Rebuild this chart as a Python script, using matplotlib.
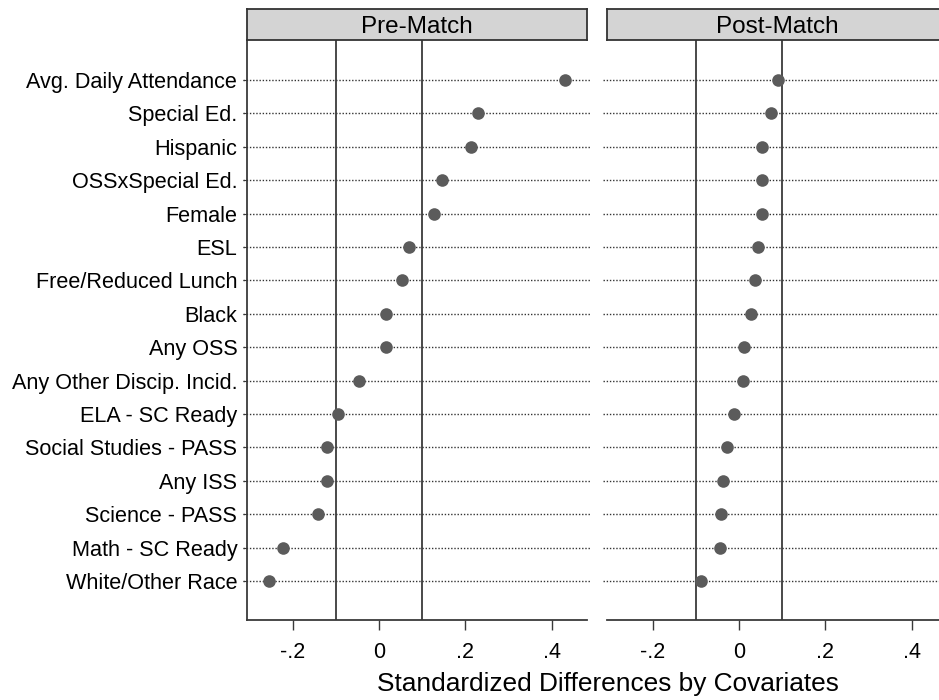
import numpy as np
import matplotlib
matplotlib.use('Agg')
import matplotlib.pyplot as plt

plt.rcParams['font.family'] = ['Liberation Sans', 'DejaVu Sans']

# covariates, top to bottom
covariates = ['Avg. Daily Attendance', 'Special Ed.', 'Hispanic', 'OSSxSpecial Ed.',
              'Female', 'ESL', 'Free/Reduced Lunch', 'Black', 'Any OSS',
              'Any Other Discip. Incid.', 'ELA - SC Ready', 'Social Studies - PASS',
              'Any ISS', 'Science - PASS', 'Math - SC Ready', 'White/Other Race']

pre_match = [0.431, 0.229, 0.212, 0.146, 0.128, 0.070, 0.054, 0.017, 0.016,
             -0.046, -0.096, -0.121, -0.121, -0.141, -0.222, -0.256]
post_match = [0.091, 0.073, 0.054, 0.054, 0.053, 0.043, 0.037, 0.027, 0.012,
              0.009, -0.012, -0.029, -0.036, -0.041, -0.043, -0.087]

panels = ['Pre-Match', 'Post-Match']
xticks = [-0.2, 0, 0.2, 0.4]
xticklabels = ['-.2', '0', '.2', '.4']
thresholds = [-0.1, 0.1]

W, H = 939, 700
fig = plt.figure(figsize=(W / 100, H / 100), dpi=100)

ypos = np.arange(len(covariates))
dot_col = '#5b5b5b'
line_col = '#3a3a3a'

lefts = [247, 607]
pw = 340
top, bottom = 40, 620

for i, (name, vals) in enumerate(zip(panels, [pre_match, post_match])):
    ax = fig.add_axes([lefts[i] / W, 1 - bottom / H, pw / W, (bottom - top) / H])
    for y in ypos:
        ax.plot([-0.315, 0.49], [y, y], linestyle=(0, (1, 1.3)), color='#333333',
                linewidth=1.0, zorder=1, clip_on=False)
    for t in thresholds:
        ax.axvline(t, color=line_col, linewidth=1.3, zorder=2)
    ax.scatter(vals, ypos, s=82, color=dot_col, zorder=3, linewidths=0)
    ax.set_xlim(-0.306, 0.482)
    ax.set_ylim(len(covariates) - 1 + 1.17, -1.2)
    ax.set_xticks(xticks)
    ax.set_xticklabels(xticklabels, fontsize=15.5)
    ax.tick_params(axis='x', length=7, width=1, color=line_col, pad=9)
    for s in ['top', 'right']:
        ax.spines[s].set_visible(False)
    ax.spines['bottom'].set_color(line_col)
    ax.spines['bottom'].set_linewidth(1.3)
    if i == 0:
        ax.set_yticks(ypos)
        ax.set_yticklabels(covariates, fontsize=15.6)
        ax.tick_params(axis='y', length=3, width=0.8, color=line_col, pad=4)
        ax.spines['left'].set_color(line_col)
        ax.spines['left'].set_linewidth(1.3)
    else:
        ax.set_yticks([])
        ax.spines['left'].set_visible(False)

    # panel header strip
    hx = fig.add_axes([lefts[i] / W, 1 - top / H, pw / W, 31 / H])
    hx.set_facecolor('#d4d4d4')
    hx.set_xticks([])
    hx.set_yticks([])
    for s in hx.spines.values():
        s.set_color('#333333')
        s.set_linewidth(1.3)
    if i == 1:
        hx.spines['right'].set_visible(False)
    hx.text(0.5, 0.42, name, ha='center', va='center', fontsize=17.5,
            transform=hx.transAxes)

fig.text(608 / W, 1 - 684 / H, 'Standardized Differences by Covariates',
         ha='center', va='center', fontsize=18.9)

fig.savefig('out.png', dpi=100)
